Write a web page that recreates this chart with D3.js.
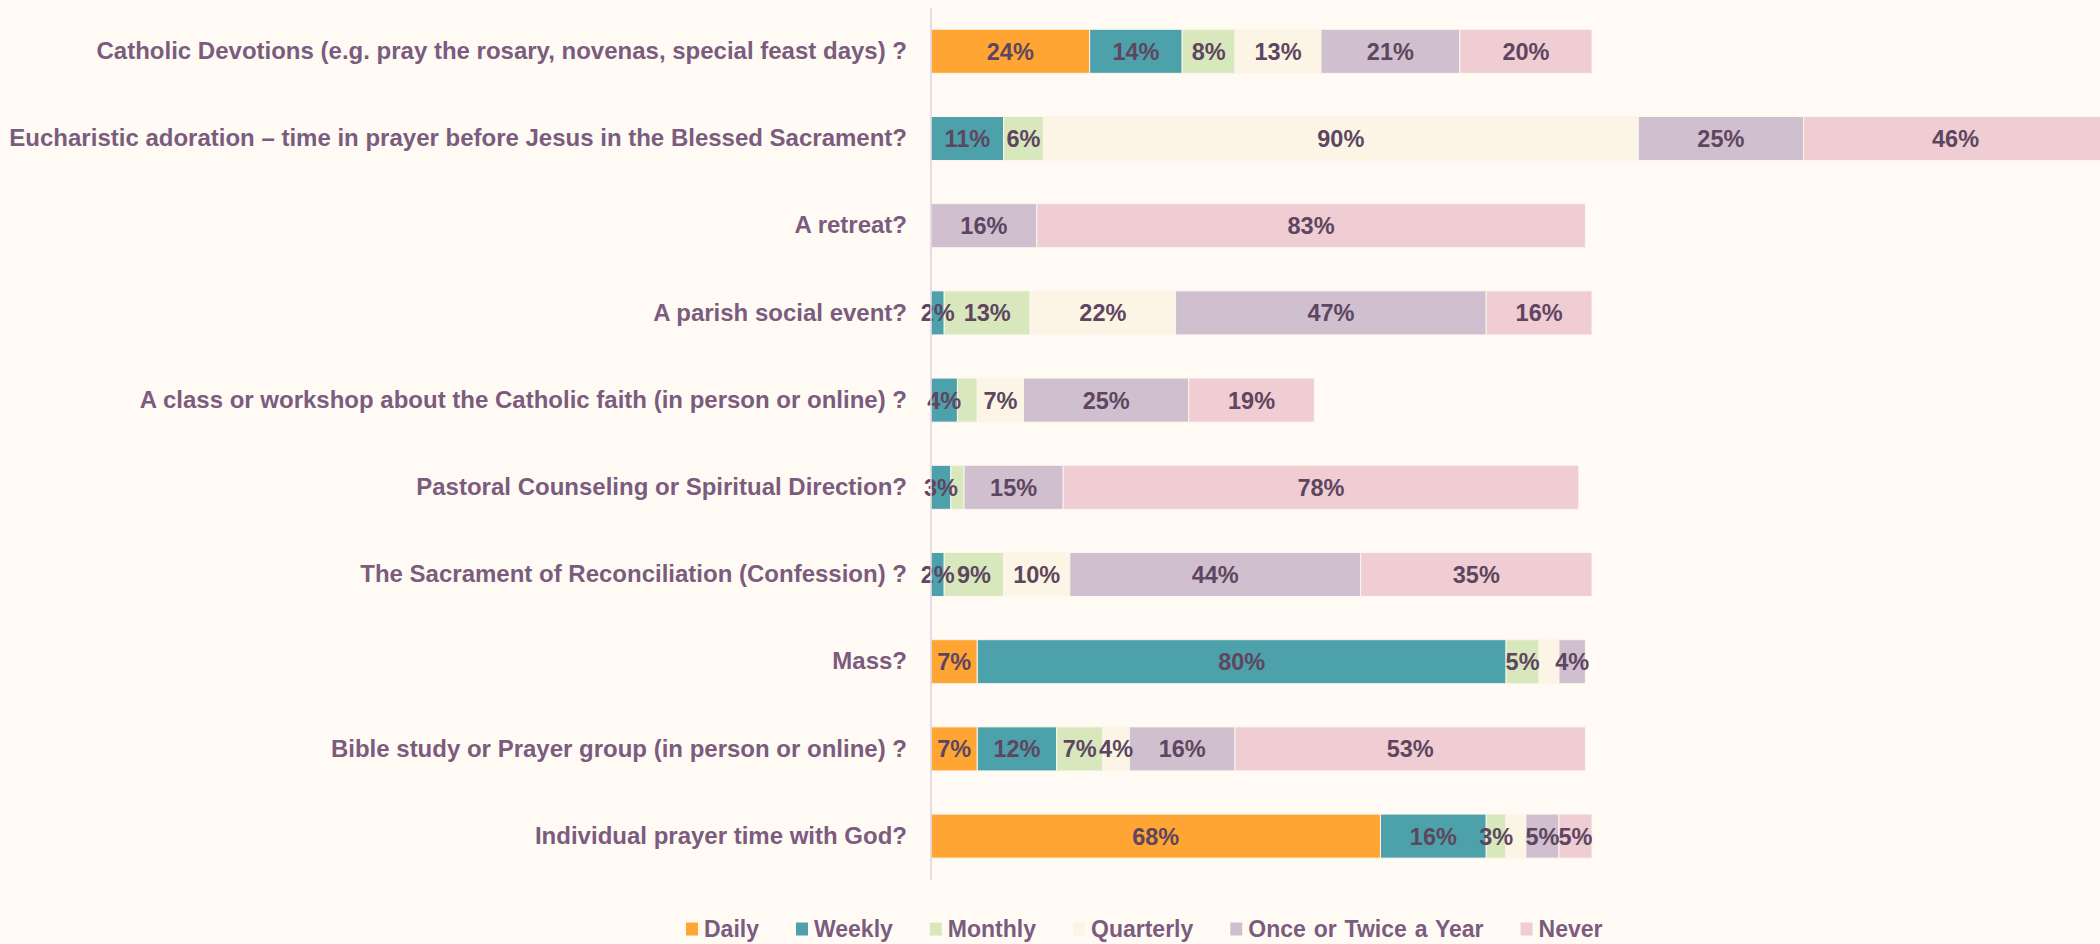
<!DOCTYPE html>
<html>
<head>
<meta charset="utf-8">
<script src="https://cdn.jsdelivr.net/npm/d3@7"></script>
<style>
  html, body { margin: 0; padding: 0; background: #fffbf4; }
  svg { display: block; font-family: "Liberation Sans", Arial, sans-serif; font-weight: bold; }
</style>
</head>
<body>
<svg id="chart"></svg>
<script>
/* data, top row first */
var categories = [
  "Catholic Devotions (e.g. pray the rosary, novenas, special feast days) ?",
  "Eucharistic adoration \u2013 time in prayer before Jesus in the Blessed Sacrament?",
  "A retreat?",
  "A parish social event?",
  "A class or workshop about the Catholic faith (in person or online) ?",
  "Pastoral Counseling or Spiritual Direction?",
  "The Sacrament of Reconciliation (Confession) ?",
  "Mass?",
  "Bible study or Prayer group (in person or online) ?",
  "Individual prayer time with God?"
];
var seriesNames = ["Daily", "Weekly", "Monthly", "Quarterly", "Once or Twice a Year", "Never"];
var daily     = [24,  0,  0,  0,  0,  0,  0,  7,  7, 68];
var weekly    = [14, 11,  0,  2,  4,  3,  2, 80, 12, 16];
var monthly   = [ 8,  6,  0, 13,  3,  2,  9,  5,  7,  3];
var quarterly = [13, 90,  0, 22,  7,  0, 10,  3,  4,  3];
var yearly    = [21, 25, 16, 47, 25, 15, 44,  4, 16,  5];
var never     = [20, 46, 83, 16, 19, 78, 35,  0, 53,  5];
// segments that carry no data label in the original (row index, series name)
var unlabeled = [[4, "Monthly"], [5, "Monthly"], [7, "Quarterly"], [9, "Quarterly"]];

var colors = ["#ffa533", "#4da1aa", "#d8e8bc", "#fcf5e5", "#cfbfcf", "#efcdd3"];

var width = 2100, height = 944;
var svg = d3.select("#chart").attr("width", width).attr("height", height);

var seriesValues = [daily, weekly, monthly, quarterly, yearly, never];
var rows = categories.map(function (c, i) {
  var r = { cat: c, idx: i };
  seriesNames.forEach(function (s, j) { r[s] = seriesValues[j][i]; });
  return r;
});

var stacked = d3.stack().keys(seriesNames)(rows);

var x = d3.scaleLinear().domain([0, 100]).range([931, 1592]);
var y = d3.scaleBand().domain(categories).range([7.7, 879.7]).paddingInner(0.495).paddingOuter(0.2475);
var color = d3.scaleOrdinal().domain(seriesNames).range(colors);

// bars
var groups = svg.append("g")
  .selectAll("g")
  .data(stacked)
  .enter().append("g")
  .attr("fill", function (d) { return color(d.key); });

groups.selectAll("rect")
  .data(function (d) { return d; })
  .enter().append("rect")
  .attr("x", function (d) { return x(d[0]); })
  .attr("y", function (d) { return y(d.data.cat); })
  .attr("width", function (d) { return x(d[1]) - x(d[0]); })
  .attr("height", y.bandwidth())
  .attr("stroke", "#fbf6ee")
  .attr("stroke-width", 1);

// value labels
function isHidden(rowIdx, key) {
  return unlabeled.some(function (u) { return u[0] === rowIdx && u[1] === key; });
}
stacked.forEach(function (s) {
  svg.append("g").selectAll("text")
    .data(s.filter(function (d) { return d[1] - d[0] > 0 && !isHidden(d.data.idx, s.key); }))
    .enter().append("text")
    .attr("x", function (d) { return (x(d[0]) + x(d[1])) / 2; })
    .attr("y", function (d) { return y(d.data.cat) + y.bandwidth() / 2; })
    .attr("dy", "0.36em")
    .attr("text-anchor", "middle")
    .attr("font-size", 23.5)
    .attr("fill", "#5e4660")
    .text(function (d) { return (d[1] - d[0]) + "%"; });
});

// category axis
var yAxis = svg.append("g")
  .attr("transform", "translate(" + x(0) + ",0)")
  .call(d3.axisLeft(y).tickSize(0).tickPadding(24));
yAxis.select(".domain").attr("stroke", "#dcd3de").attr("stroke-width", 1.5)
  .attr("d", "M0,8V880");
yAxis.selectAll("text")
  .attr("font-size", 24)
  .attr("font-family", "'Liberation Sans', Arial, sans-serif")
  .attr("font-weight", "bold")
  .attr("fill", "#7b5c7e");

// legend
var legend = svg.append("g").attr("transform", "translate(686,929)");
var lx = 0;
seriesNames.forEach(function (name, i) {
  var item = legend.append("g").attr("transform", "translate(" + lx + ",0)");
  item.append("rect")
    .attr("x", 0).attr("y", -6.5)
    .attr("width", 12).attr("height", 13)
    .attr("fill", colors[i]);
  var t = item.append("text")
    .attr("x", 18).attr("dy", "0.36em")
    .attr("font-size", 23)
    .attr("word-spacing", 1.5)
    .attr("fill", "#7b5c7e")
    .text(name);
  lx += 18 + t.node().getComputedTextLength() + 37;
});
</script>
</body>
</html>
